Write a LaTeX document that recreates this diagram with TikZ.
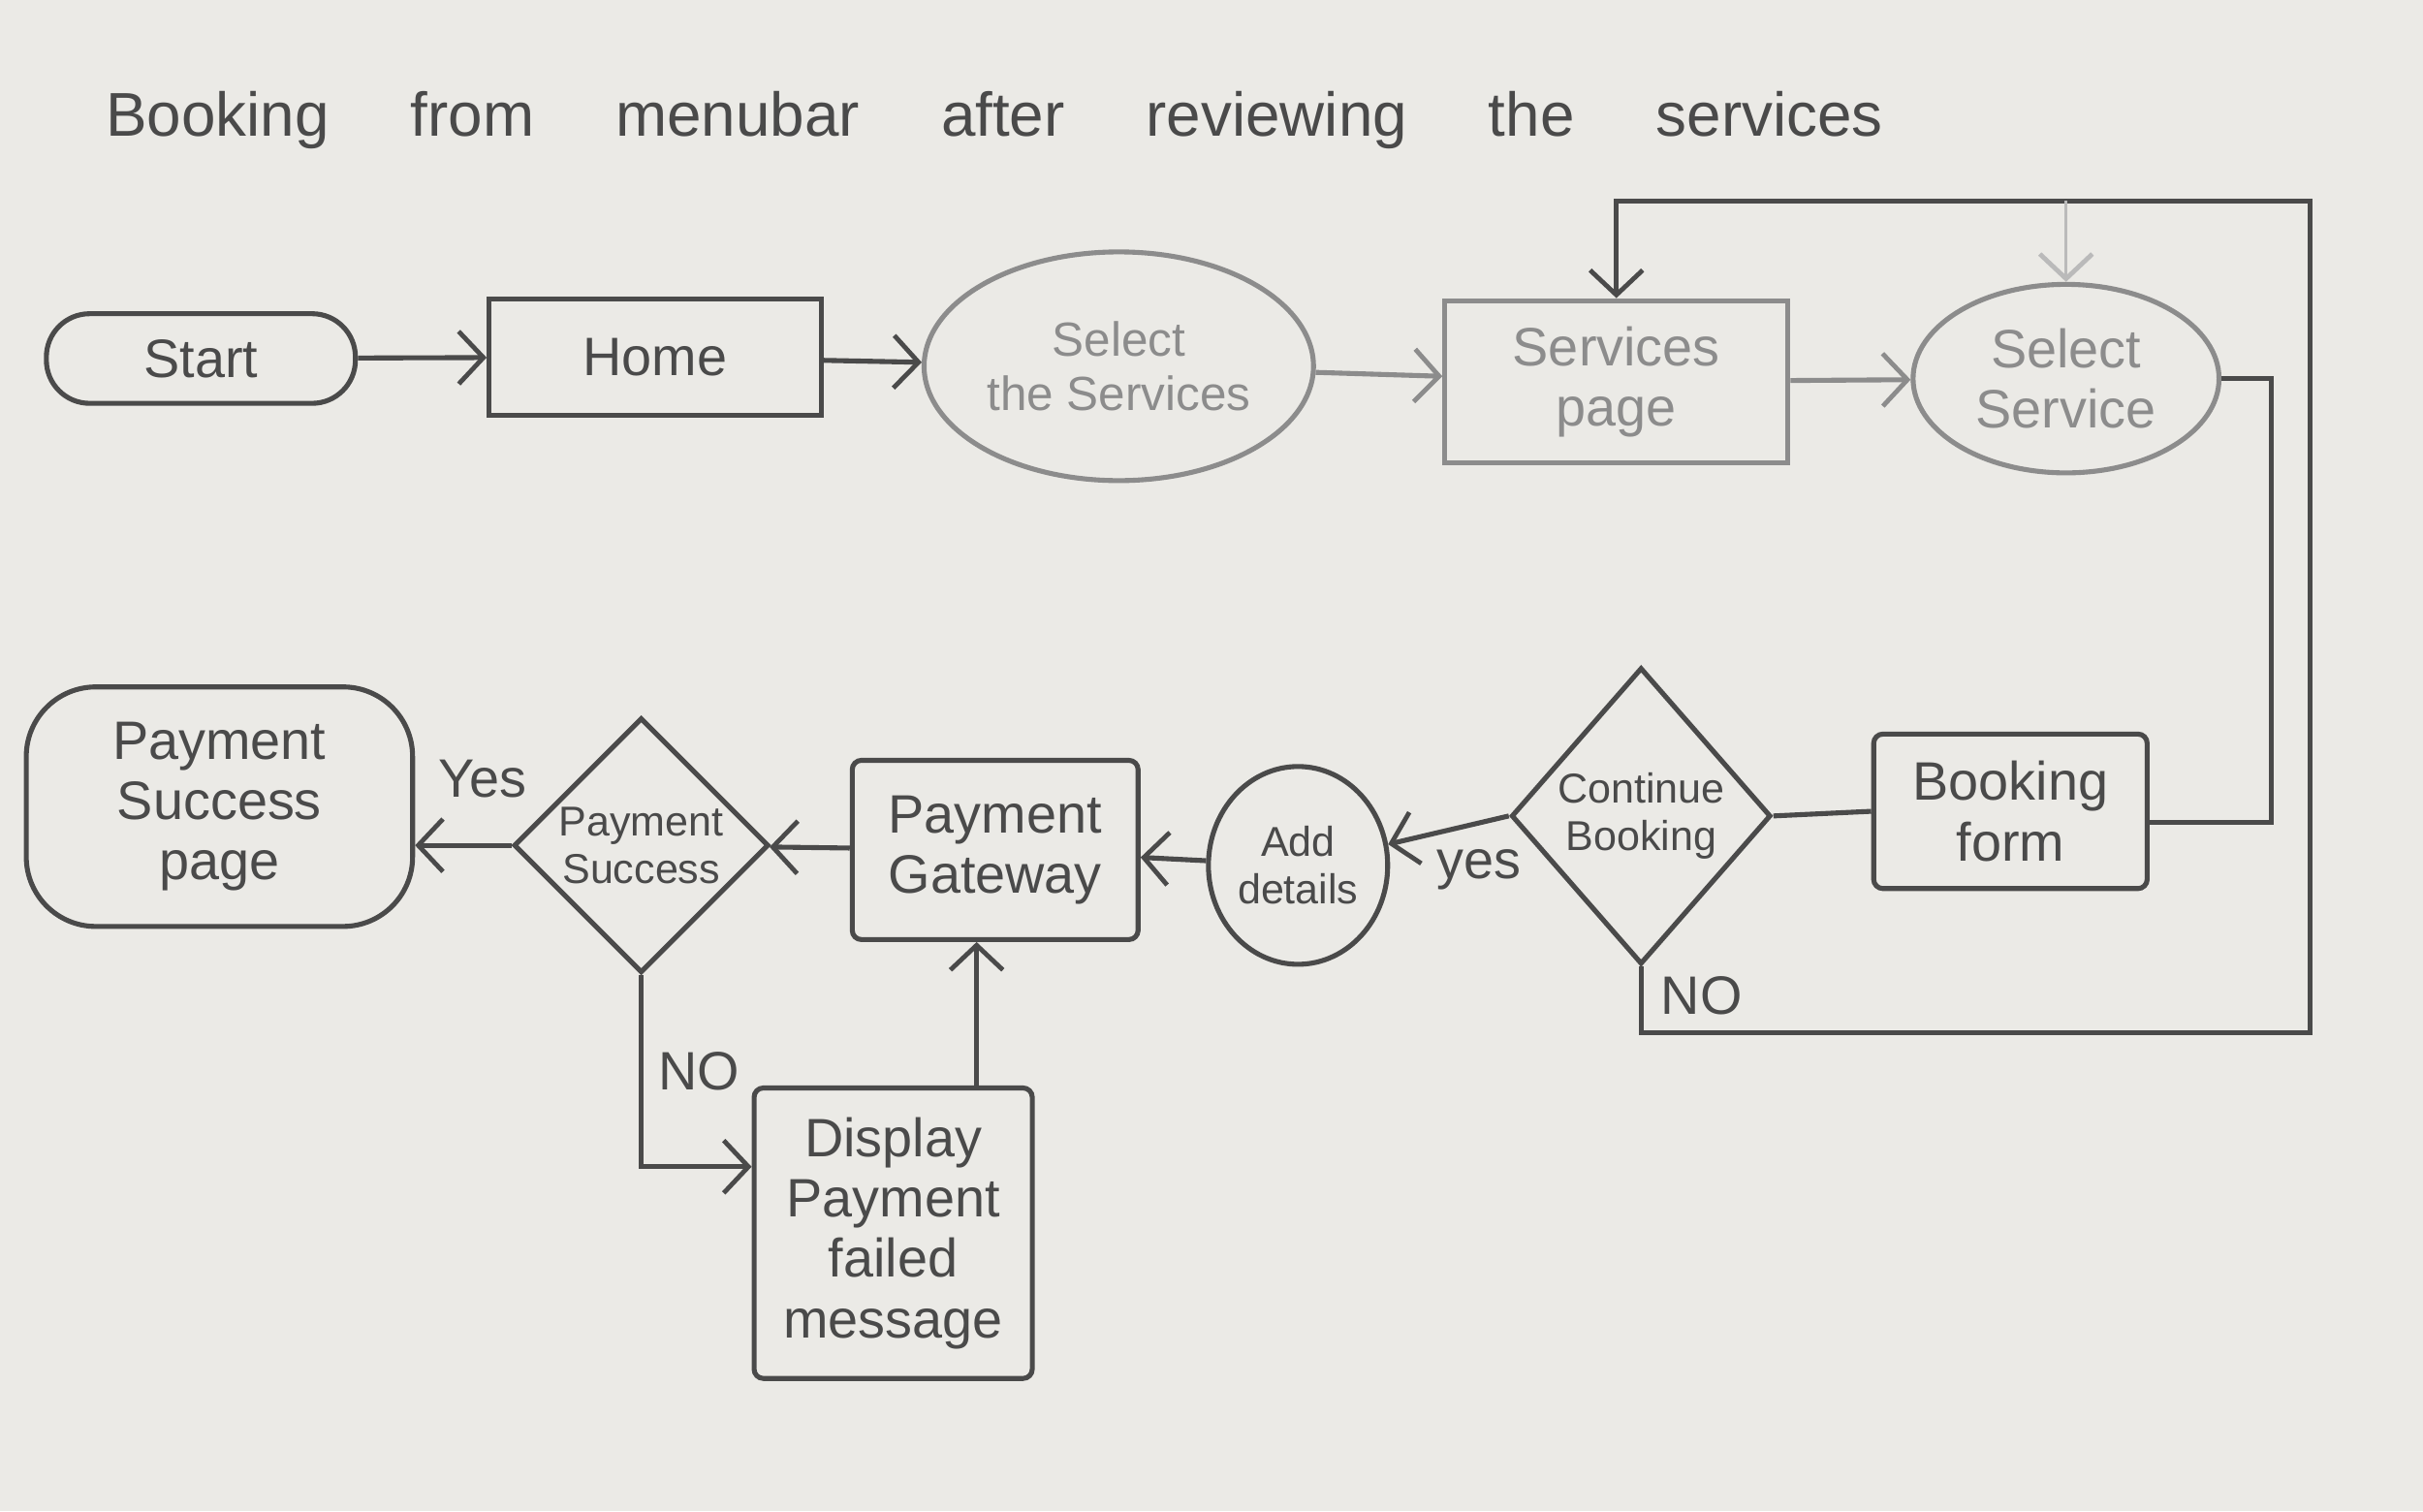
\documentclass[tikz,border=0pt]{standalone}
\usepackage{fontspec}
\setmainfont{Liberation Sans}
\usetikzlibrary{shapes.geometric,arrows.meta}
\definecolor{paper}{HTML}{EBEAE6}
\definecolor{ink}{HTML}{4A4A4A}
\definecolor{pale}{HTML}{8C8C8C}
\tikzset{
  every node/.style={text=ink},
  txt/.style={font=\fontsize{35}{39}\selectfont},
  mid/.style={font=\fontsize{31}{35}\selectfont},
  small/.style={font=\fontsize{27}{31}\selectfont},
  box/.style={draw=ink, line width=3.2pt, align=center, inner sep=4pt, txt},
  light/.style={draw=pale, text=pale},
  conn/.style={draw=ink, line width=3.2pt},
  arr/.style={conn, -{Straight Barb[length=16pt,width=34pt,line width=3pt]}},
  lbl/.style={txt, text=ink}
}
\begin{document}
\begin{tikzpicture}[x=1pt,y=-1pt]
\fill[paper] (0,0) rectangle (1568,978);
\useasboundingbox (0,0) rectangle (1568,978);

\node[anchor=west, font=\fontsize{40}{44}\selectfont] (title) at (65,78)
  {\makebox[1150pt][s]{Booking from menubar after reviewing the services}};

% top row
\node[box, rounded corners=28pt, minimum width=200pt, minimum height=58pt] (start) at (130,232) {Start};
\node[box, minimum width=215pt, minimum height=75pt] (home) at (424,231) {Home};
\node[box, light, mid, ellipse, minimum width=252pt, minimum height=148pt, inner sep=0pt] (selsvcs) at (724,237) {Select\\the Services};
\node[box, light, minimum width=222pt, minimum height=105pt] (svcpage) at (1046,247) {Services\\page};
\node[box, light, ellipse, minimum width=198pt, minimum height=122pt, inner sep=0pt] (selsvc) at (1337,245) {Select\\Service};

% second row
\node[box, rounded corners=6pt, minimum width=177pt, minimum height=100pt] (bform) at (1301,525) {Booking\\form};
\node[box, small, diamond, minimum width=168pt, minimum height=192pt, inner sep=0pt] (cont) at (1062,528) {Continue\\Booking};
\node[box, small, ellipse, minimum width=116pt, minimum height=128pt, inner sep=0pt] (add) at (840,560) {Add\\details};
\node[box, rounded corners=6pt, minimum width=185pt, minimum height=116pt] (pg) at (644,550) {Payment\\Gateway};
\node[box, small, diamond, minimum width=165pt, minimum height=165pt, inner sep=0pt] (psucc) at (415,547) {Payment\\Success};
\node[box, rounded corners=45pt, minimum width=250pt, minimum height=155pt] (pspage) at (142,522) {Payment\\Success\\page};
\node[box, rounded corners=6pt, minimum width=180pt, minimum height=188pt] (disp) at (578,798) {Display\\Payment\\failed\\message};

% bend points
\coordinate (sb) at (1470,532);
\coordinate (nb) at (415,755);
\coordinate (dx) at (632,0);
\coordinate (l2) at (1495,668);
\coordinate (l4) at (1046,130);

% connectors
\draw[arr] (start) -- (home);
\draw[arr] (home) -- (selsvcs);
\draw[arr, draw=pale] (selsvcs) -- (svcpage);
\draw[arr, draw=pale] (svcpage) -- (selsvc);
\draw[conn] (selsvc.east) -| (sb) -- (sb -| bform.east);
\draw[conn] (bform.west) -- (cont.east);
\draw[arr] (cont.west) -- (add) node[lbl, pos=0.25, below=12pt] (yes1) {yes};
\draw[arr] (add) -- (pg);
\draw[arr] (pg) -- (psucc);
\draw[arr] (psucc.west) -- (psucc.west -| pspage.east) node[lbl, pos=0.3, above=26pt] (yes2) {Yes};
\draw[arr] (psucc.south) -- (psucc.south |- nb) node[lbl, midway, right=6pt] (no1) {NO} -- (nb -| disp.west);
\draw[arr] (disp.north -| dx) -- (pg.south -| dx);
\draw[arr] (cont.south) |- (l2) node[lbl, pos=0.22, right=8pt] (no2) {NO} |- (l4) -- (svcpage.north);
\draw[arr, draw=pale!60, line width=2pt] (selsvc.north |- l4) -- (selsvc.north);
\end{tikzpicture}
\end{document}
